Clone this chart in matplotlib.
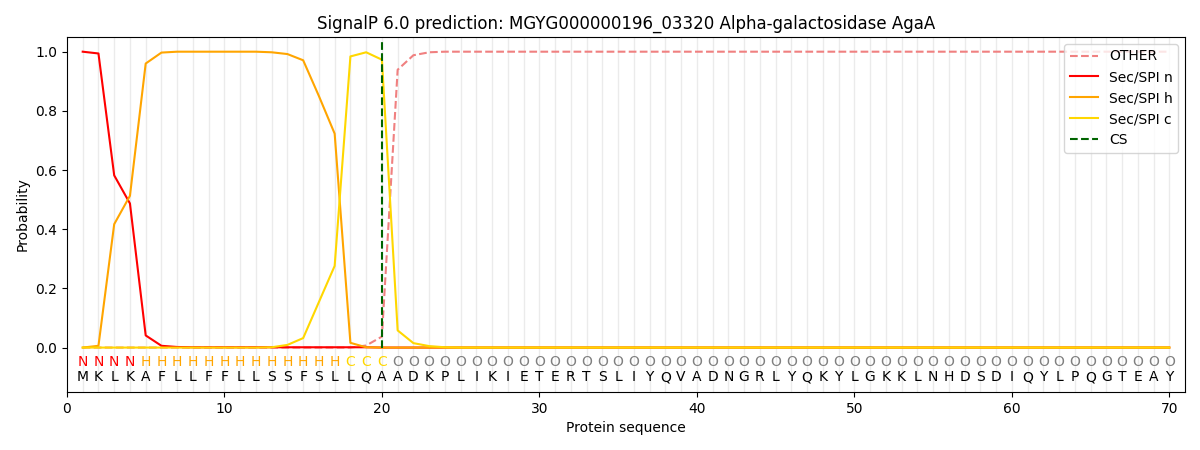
import matplotlib
matplotlib.use("Agg")
import matplotlib.pyplot as plt
import numpy as np

sequence = "MKLKAFLLFFLLSSFSLLQAADKPLIKIETERTSLIYQVADNGRLYQKYLGKKLNHDSDIQYLPQGTEAY"
labels = "NNNN" + "H" * 13 + "CCC" + "O" * 50

sp_n = [1.0, 0.994, 0.582, 0.487, 0.041, 0.006, 0.002, 0.001, 0.001, 0.001,
        0.001, 0.001, 0.001, 0.001, 0.001, 0.001, 0.001, 0.001, 0.001, 0.0] + [0.0] * 50
sp_h = [0.0, 0.006, 0.417, 0.513, 0.96, 0.997, 1.0, 1.0, 1.0, 1.0,
        1.0, 1.0, 0.998, 0.992, 0.971, 0.85, 0.723, 0.016, 0.001, 0.0] + [0.0] * 50
sp_c = [0.0] * 12 + [0.001, 0.009, 0.032, 0.154, 0.276, 0.984, 0.998, 0.973,
                     0.058, 0.015, 0.005, 0.001] + [0.0] * 46
other = [0.0] * 18 + [0.007, 0.037, 0.939, 0.988, 0.998] + [1.0] * 47
cs_pos = 20

pos = np.arange(1, len(sequence) + 1)

fig, ax = plt.subplots(figsize=(12, 4.5), dpi=100)
fig.subplots_adjust(left=0.0558, right=0.9875, top=0.918, bottom=0.129)

for p in pos:
    ax.axvline(p, color="#ebebeb", lw=1, zorder=0)

ax.plot(pos, other, color="lightcoral", ls="--", label="OTHER")
ax.plot(pos, sp_n, color="red", label="Sec/SPI n")
ax.plot(pos, sp_h, color="orange", label="Sec/SPI h")
ax.plot(pos, sp_c, color="gold", label="Sec/SPI c")
ax.plot([cs_pos, cs_pos], [0, 1.04], color="darkgreen", ls="--", label="CS")

label_colors = {"N": "red", "H": "orange", "C": "gold", "O": "gray"}
for p, aa, lab in zip(pos, sequence, labels):
    ax.text(p, -0.05, lab, color=label_colors[lab], ha="center", va="center", fontsize=10)
    ax.text(p, -0.10, aa, color="black", ha="center", va="center", fontsize=10)

ax.set_xlim(0, 71)
ax.set_ylim(-0.15, 1.05)
ax.set_xticks(np.arange(0, 71, 10))
ax.set_yticks(np.arange(0, 1.01, 0.2))
ax.set_xlabel("Protein sequence")
ax.set_ylabel("Probability")
ax.set_title("SignalP 6.0 prediction: MGYG000000196_03320 Alpha-galactosidase AgaA")
ax.legend(loc="upper right")

fig.savefig("out.png", dpi=100)
